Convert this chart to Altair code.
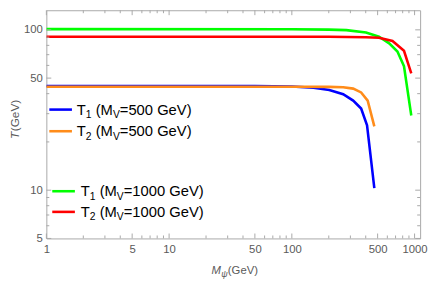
import altair as alt
import pandas as pd

# ---------------- data ----------------
series_names = ["T1_500", "T2_500", "T1_1000", "T2_1000"]
series_colors = ["#0000ff", "#ff8c1a", "#00ff00", "#ff0000"]

blue_x = [1, 50, 100, 150, 202, 262, 316, 367, 410, 470]
blue_y = [44.6, 44.6, 44.3, 43.5, 42.2, 39.7, 36.2, 32.3, 25.4, 10.3]
orange_x = [1, 100, 200, 262, 316, 367, 415, 470]
orange_y = [44.2, 44.2, 44.1, 43.8, 43.0, 40.7, 36.2, 25.0]
green_x = [1, 100, 200, 278, 402, 513, 621, 725, 820, 940]
green_y = [101, 100.8, 100.3, 99.6, 96.3, 90.6, 82.4, 73.3, 59.3, 29.2]
red_x = [1, 200, 400, 513, 661, 820, 940]
red_y = [90.6, 90.5, 90.0, 89.3, 85.2, 74.0, 53.5]

x_major = [1, 5, 10, 50, 100, 500, 1000]
x_minor = [2, 3, 4, 6, 7, 8, 9, 20, 30, 40, 60, 70, 80, 90,
           200, 300, 400, 600, 700, 800, 900]
y_major = [5, 10, 50, 100]
y_minor = [6, 7, 8, 9, 20, 30, 40, 60, 70, 80, 90]

legend_entries = [("1", "500"), ("2", "500"), ("1", "1000"), ("2", "1000")]

# ---------------- layout ----------------
W, H = 380, 232
FRAME = "#a8a8a8"
LABEL = "#5a5a5a"
FONT = "Liberation Sans"
x_scale = alt.Scale(type="log", domain=[1, 1110], nice=False)
y_scale = alt.Scale(type="log", domain=[5, 132.5], nice=False)
x_axis = alt.Axis(values=x_major, format="d", ticks=False, domain=False, grid=False,
                  title=None, labelFlush=False, labelOverlap=False, labelPadding=5)
y_axis = alt.Axis(values=y_major, format="d", ticks=False, domain=False, grid=False,
                  title=None, labelFlush=False, labelOverlap=False, labelPadding=4)

rows = []
for name, xs, ys in [("T1_500", blue_x, blue_y), ("T2_500", orange_x, orange_y),
                     ("T1_1000", green_x, green_y), ("T2_1000", red_x, red_y)]:
    for xv, yv in zip(xs, ys):
        rows.append({"x": xv, "y": yv, "s": name})
df = pd.DataFrame(rows)

lines = alt.Chart(df).mark_line(strokeWidth=2.6, clip=True).encode(
    x=alt.X("x:Q", scale=x_scale, axis=x_axis),
    y=alt.Y("y:Q", scale=y_scale, axis=y_axis),
    color=alt.Color("s:N", scale=alt.Scale(domain=series_names, range=series_colors), legend=None),
)

def xticks(vals, ln):
    d = pd.DataFrame({"x": vals})
    b = alt.Chart(d).mark_rule(color=FRAME, strokeWidth=1).encode(
        x=alt.X("x:Q", scale=x_scale, axis=x_axis), y=alt.value(H), y2=alt.value(H - ln))
    t = alt.Chart(d).mark_rule(color=FRAME, strokeWidth=1).encode(
        x=alt.X("x:Q", scale=x_scale, axis=x_axis), y=alt.value(0), y2=alt.value(ln))
    return [b, t]

def yticks(vals, ln):
    d = pd.DataFrame({"y": vals})
    l = alt.Chart(d).mark_rule(color=FRAME, strokeWidth=1).encode(
        y=alt.Y("y:Q", scale=y_scale, axis=y_axis), x=alt.value(0), x2=alt.value(ln))
    r = alt.Chart(d).mark_rule(color=FRAME, strokeWidth=1).encode(
        y=alt.Y("y:Q", scale=y_scale, axis=y_axis), x=alt.value(W), x2=alt.value(W - ln))
    return [l, r]

tick_layers = xticks(x_major, 5) + xticks(x_minor, 3) + yticks(y_major, 5) + yticks(y_minor, 3)

# ---------------- legend (hand-built for subscripts) ----------------
AW = {' ': 0.278, '(': 0.333, ')': 0.333, '=': 0.584, '0': 0.556, '1': 0.556,
      '2': 0.556, '5': 0.556, 'G': 0.778, 'e': 0.556, 'V': 0.667, 'M': 0.833, 'T': 0.611}
def tw(s, size):
    return sum(AW[c] for c in s) * size

dummy = pd.DataFrame({"a": [0]})
def txt(text, x, y, size, color="#000000", **kw):
    return alt.Chart(dummy).mark_text(text=text, font=FONT, fontSize=size, align="left",
                                      baseline="alphabetic", color=color, **kw).encode(
        x=alt.value(x), y=alt.value(y))

legend_layers = []
FS, SFS = 15, 10.5
leg_pos = [(3, 101, 31), (3, 123, 31), (6, 184, 35), (6, 205, 35)]
for (sub, mv), color, (lx, ly, tx) in zip(legend_entries, series_colors, leg_pos):
    legend_layers.append(alt.Chart(dummy).mark_rule(color=color, strokeWidth=2.6).encode(
        x=alt.value(lx), x2=alt.value(lx + 23), y=alt.value(ly)))
    base = ly + 5
    cx = tx
    # (gap before, text, is_subscript)
    for gap, piece, is_sub in [(0, "T", False), (0, sub, True), (tw(" ", FS), "(M", False),
                               (0, "V", True), (0, "=" + mv, False), (tw(" ", FS), "GeV)", False)]:
        size = SFS if is_sub else FS
        cx += gap
        legend_layers.append(txt(piece, cx, base + (3.5 if is_sub else 0), size))
        cx += tw(piece, size)

# ---------------- axis titles ----------------
title_layers = []
yt_x, yt_y = -32, 131
title_layers.append(alt.Chart(dummy).mark_text(text="T", font=FONT, fontSize=12, fontStyle="italic",
                                               angle=270, align="left", baseline="middle",
                                               color=LABEL).encode(x=alt.value(yt_x), y=alt.value(yt_y)))
title_layers.append(alt.Chart(dummy).mark_text(text="(GeV)", font=FONT, fontSize=12,
                                               angle=270, align="left", baseline="middle",
                                               color=LABEL).encode(x=alt.value(yt_x), y=alt.value(yt_y - 8)))
xt_start, xt_base = 168, 268
title_layers.append(txt("M", xt_start, xt_base, 11.5, color=LABEL, fontStyle="italic"))
title_layers.append(txt("\u03c8", xt_start + 9.8, xt_base + 3, 9, color=LABEL, fontStyle="italic"))
title_layers.append(txt("(GeV)", xt_start + 16.5, xt_base, 11.5, color=LABEL))

chart = alt.layer(lines, *tick_layers, *legend_layers, *title_layers).properties(
    width=W, height=H,
    autosize=alt.AutoSizeParams(type="none"),
    padding={"left": 39, "top": 0, "right": 8, "bottom": 42},
).configure_view(stroke=FRAME, strokeWidth=1).configure_axis(
    labelFont=FONT, labelFontSize=11.5, labelColor=LABEL
)

chart.save("out.html", embed_options={"renderer": "svg", "actions": False})
